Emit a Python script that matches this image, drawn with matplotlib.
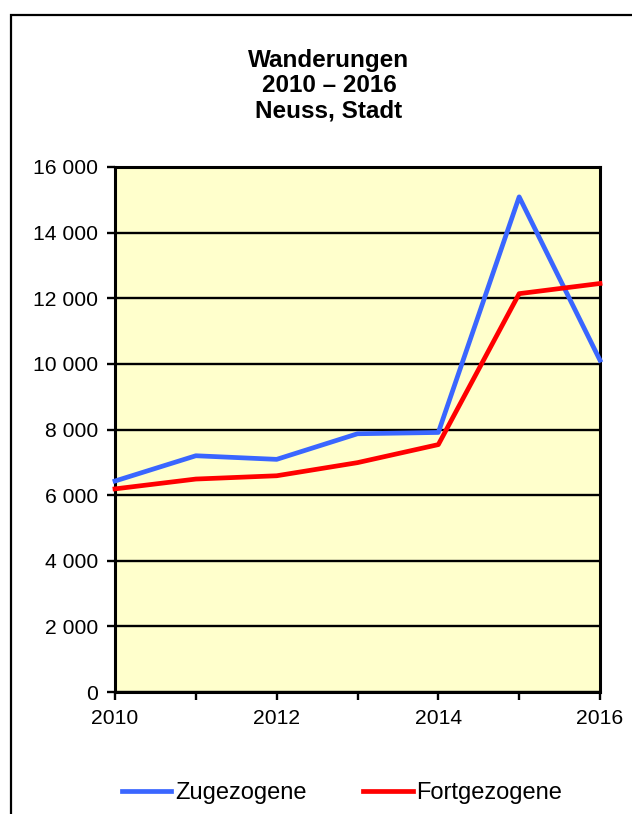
#!/usr/bin/env python3

import matplotlib
matplotlib.use("Agg")
import matplotlib.pyplot as plt
from matplotlib.patches import Rectangle
from matplotlib.ticker import FuncFormatter

years = [2010, 2011, 2012, 2013, 2014, 2015, 2016]
zugezogene = [6430, 7200, 7090, 7870, 7910, 15090, 10110]
fortgezogene = [6190, 6490, 6590, 6990, 7540, 12140, 12450]
year_labels = ["2010", "", "2012", "", "2014", "", "2016"]
title = "Wanderungen\n2010 – 2016\nNeuss, Stadt"

plt.rcParams['font.family'] = ['Liberation Sans', 'DejaVu Sans']

fig = plt.figure(figsize=(6.32, 8.14), dpi=100)
ax = fig.add_axes([115 / 632, 1 - 692 / 814, 485 / 632, 525 / 814])

# outer frame, cut off at right and bottom like the original
fig.patches.append(Rectangle((11 / 632, -0.1), 1.0, 1 - 15 / 814 + 0.1,
                             transform=fig.transFigure, fill=False,
                             edgecolor="black", linewidth=1.6, zorder=0))

ax.set_facecolor("#FFFFCC")
ax.plot(years, zugezogene, color="#3A66FF", linewidth=3.4, label="Zugezogene",
        solid_joinstyle="round", clip_on=False, zorder=3)
ax.plot(years, fortgezogene, color="#FF0000", linewidth=3.4, label="Fortgezogene",
        solid_joinstyle="round", clip_on=False, zorder=3)

ax.set_xlim(2010, 2016)
ax.set_ylim(0, 16000)
ax.set_yticks(range(0, 16001, 2000))
ax.yaxis.set_major_formatter(FuncFormatter(lambda v, p: f"{int(v):,}".replace(",", " ")))
ax.set_xticks(years)
ax.set_xticklabels(year_labels)
ax.grid(axis="y", color="black", linewidth=1.7, zorder=1)
ax.set_axisbelow(True)
for s in ax.spines.values():
    s.set_linewidth(2.2)
ax.tick_params(axis="both", direction="out", length=6, width=1.7,
               labelsize=15.2, pad=6)

fig.text(329 / 632, 1 - 85.5 / 814, title, ha="center", va="center",
         fontsize=17.5, fontweight="bold", linespacing=1.12)

fig.legend(loc="center", bbox_to_anchor=(342 / 632, 1 - 793 / 814), ncol=2,
           frameon=False, fontsize=17, handlelength=2.1, handletextpad=0.15,
           columnspacing=2.4)

fig.savefig("out.png", dpi=100)
